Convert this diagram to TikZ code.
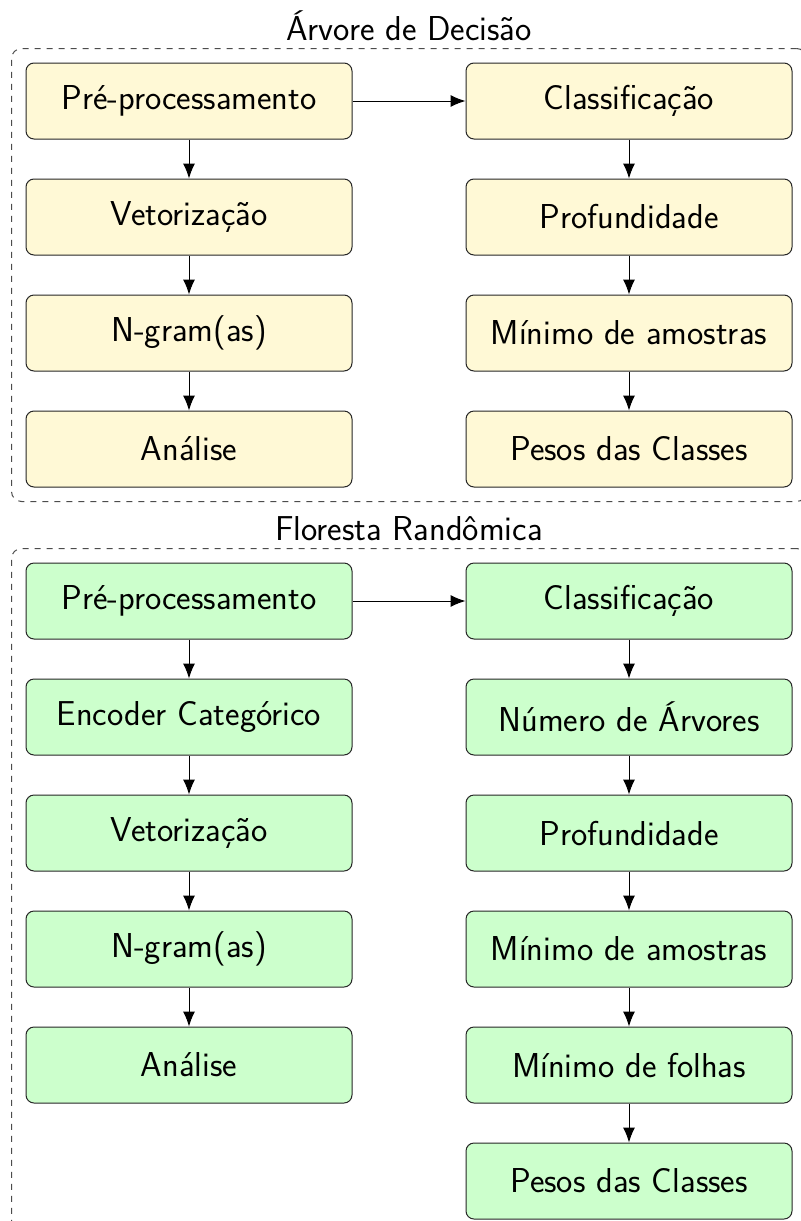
\documentclass[tikz,border=0pt]{standalone}
\usepackage{fontspec}
\usetikzlibrary{positioning,fit,arrows.meta}
\definecolor{amarelo}{RGB}{255,249,214}
\definecolor{verde}{RGB}{204,255,204}
\tikzset{
  etapa/.style={draw=black!85, rounded corners=4pt, minimum width=163pt, minimum height=38pt, line width=0.5pt},
  seta/.style={-{Latex[length=7.5pt,width=6pt]}, line width=0.5pt},
  grupo/.style={draw=black!70, dashed, rounded corners=5pt, inner sep=7pt, line width=0.5pt},
}
\begin{document}
\begin{tikzpicture}[font=\sffamily\fontsize{17.28}{20.7}\selectfont, node distance=19.5pt and 56.5pt]
	\useasboundingbox (0,0) rectangle (400pt,-610.5pt);

	% arvore de decisao
	\node[etapa, fill=amarelo] (dpre) at (94.5pt,-50.5pt) {Pré-processamento};
	\node[etapa, fill=amarelo, below=of dpre] (dvet) {Vetorização};
	\node[etapa, fill=amarelo, below=of dvet] (dngr) {N-gram(as)};
	\node[etapa, fill=amarelo, below=of dngr] (dana) {Análise};

	\node[etapa, fill=amarelo, right=of dpre] (dcla) {Classificação};
	\node[etapa, fill=amarelo, below=of dcla] (dpro) {Profundidade};
	\node[etapa, fill=amarelo, below=of dpro] (dmin) {Mínimo de amostras};
	\node[etapa, fill=amarelo, below=of dmin] (dpes) {Pesos das Classes};

	\node[grupo, fit=(dpre)(dana)(dcla)(dpes), label={above:Árvore de Decisão}] (darv) {};

	% floresta randomica
	\node[etapa, fill=verde] (fpre) at (94.5pt,-300.5pt) {Pré-processamento};
	\node[etapa, fill=verde, below=of fpre] (fenc) {Encoder Categórico};
	\node[etapa, fill=verde, below=of fenc] (fvet) {Vetorização};
	\node[etapa, fill=verde, below=of fvet] (fngr) {N-gram(as)};
	\node[etapa, fill=verde, below=of fngr] (fana) {Análise};

	\node[etapa, fill=verde, right=of fpre] (fcla) {Classificação};
	\node[etapa, fill=verde, below=of fcla] (fnum) {Número de Árvores};
	\node[etapa, fill=verde, below=of fnum] (fpro) {Profundidade};
	\node[etapa, fill=verde, below=of fpro] (fmin) {Mínimo de amostras};
	\node[etapa, fill=verde, below=of fmin] (ffol) {Mínimo de folhas};
	\node[etapa, fill=verde, below=of ffol] (fpes) {Pesos das Classes};

	\node[grupo, fit=(fpre)(fana)(fcla)(fpes), label={above:Floresta Randômica}] (fflo) {};

	\foreach \a/\b in {dpre/dvet, dvet/dngr, dngr/dana, dpre/dcla, dcla/dpro, dpro/dmin, dmin/dpes,
	                   fpre/fenc, fenc/fvet, fvet/fngr, fngr/fana, fpre/fcla, fcla/fnum, fnum/fpro, fpro/fmin, fmin/ffol, ffol/fpes}{
		\draw[seta] (\a) -- (\b);
	}
\end{tikzpicture}
\end{document}
